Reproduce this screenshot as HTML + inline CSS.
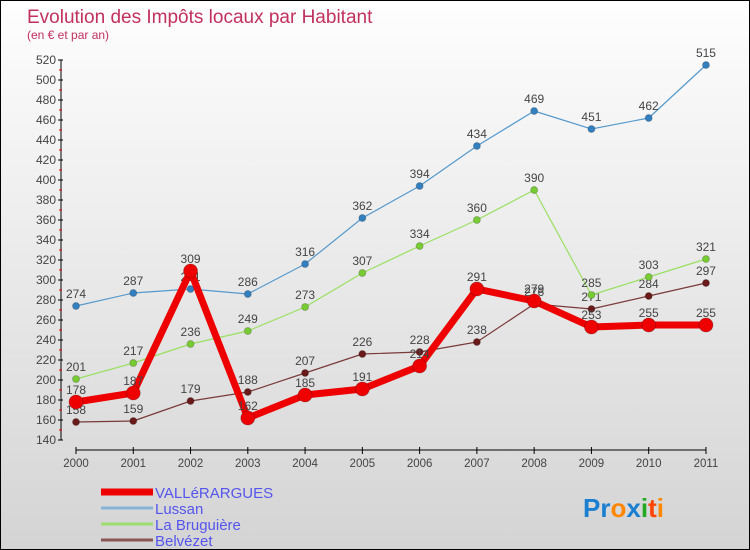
<!DOCTYPE html>
<html><head><meta charset="utf-8"><style>
body{margin:0}
#c{position:relative;width:748px;height:548px;border:1px solid #000;background:linear-gradient(#fefefe,#d4d4d4);font-family:"Liberation Sans",sans-serif;overflow:hidden}
</style></head><body>
<div id="c">
<svg id="s" width="748" height="548"></svg>
</div>
<script>
const years=["2000","2001","2002","2003","2004","2005","2006","2007","2008","2009","2010","2011"];
const vallerargues=[178,187,309,162,185,191,214,291,279,253,255,255];
const lussan=[274,287,291,286,316,362,394,434,469,451,462,515];
const bruguiere=[201,217,236,249,273,307,334,360,390,285,303,321];
const belvezet=[158,159,179,188,207,226,228,238,276,271,284,297];
const yTicks=[140,160,180,200,220,240,260,280,300,320,340,360,380,400,420,440,460,480,500,520];
const NS="http://www.w3.org/2000/svg";
const svg=document.getElementById('s');
const X=i=>75+i*57.27;
const Y=v=>59+(520-v);
function el(t,a,p){const e=document.createElementNS(NS,t);for(const k in a)e.setAttribute(k,a[k]);(p||svg).appendChild(e);return e;}
let t=el('text',{x:26,y:22,'font-size':19,fill:'#c2305e'});t.textContent='Evolution des Impôts locaux par Habitant';

t=el('text',{x:26,y:38,'font-size':12,fill:'#c2305e'});t.textContent='(en € et par an)';

let a=el('line',{x1:60,y1:59,x2:60,y2:439,stroke:'#000'});

yTicks.forEach((v,i)=>{
 el('line',{x1:57,x2:62,y1:Y(v),y2:Y(v),stroke:'#000'});
 if(i<yTicks.length-1)el('line',{x1:58,x2:61,y1:Y(v+10),y2:Y(v+10),stroke:'#e00'});
 const tx=el('text',{x:55,y:Y(v)+4,'font-size':12,fill:'#444','text-anchor':'end'});tx.textContent=v;
 
});
a=el('line',{x1:X(0),y1:449,x2:X(11),y2:449,stroke:'#000'});

years.forEach((y,i)=>{
 el('line',{x1:X(i),x2:X(i),y1:446,y2:453,stroke:'#000'});
 const tx=el('text',{x:X(i),y:466,'font-size':11.5,fill:'#444','text-anchor':'middle'});tx.textContent=y;
 
});
function series(data,color,w,r,dot,name){
 const g=el('g',{});
 
 el('polyline',{points:data.map((v,i)=>X(i)+','+Y(v)).join(' '),fill:'none',stroke:color,'stroke-width':w,'stroke-linejoin':'round'},g);
 data.forEach((v,i)=>{
  const c=el('circle',{cx:X(i),cy:Y(v),r:r,fill:dot,stroke:'#0003'},g);
  
  const tx=el('text',{x:X(i),y:Y(v)-8,'font-size':12,fill:'#444','text-anchor':'middle'},g);tx.textContent=v;
  
 });
}
series(belvezet,'#7a3a3a',1.2,3.5,'#6b1a1a','belvezet');
series(bruguiere,'#99e060',1.2,3.5,'#77cc33','la-bruguiere');
series(lussan,'#5599cc',1.2,3.5,'#3380c0','lussan');
series(vallerargues,'#ee0000',7,7,'#ee0000','vallerargues');
const leg=[['VALLéRARGUES','#ee0000',7],['Lussan','#88b4d8',3],['La Bruguière','#9fdd70',3],['Belvézet','#8a5555',3]];
leg.forEach((l,i)=>{
 const y=493+i*16;
 const g=el('g',{});
 
 el('line',{x1:100,x2:152,y1:y-2,y2:y-2,stroke:l[1],'stroke-width':l[2]},g);
 const tx=el('text',{x:154,y:y+4,'font-size':15,fill:'#5555ee'},g);tx.textContent=l[0];
});
const lg=el('text',{x:582,y:516,'font-size':26,'font-weight':'bold'});

[['Pr','#1a7fd0'],['o','#ff8800'],['x','#1a7fd0'],['i','#22aa22'],['t','#ff4400'],['i','#ff8800']].forEach(p=>{const ts=el('tspan',{fill:p[1]},lg);ts.textContent=p[0];});
</script>
</body></html>
